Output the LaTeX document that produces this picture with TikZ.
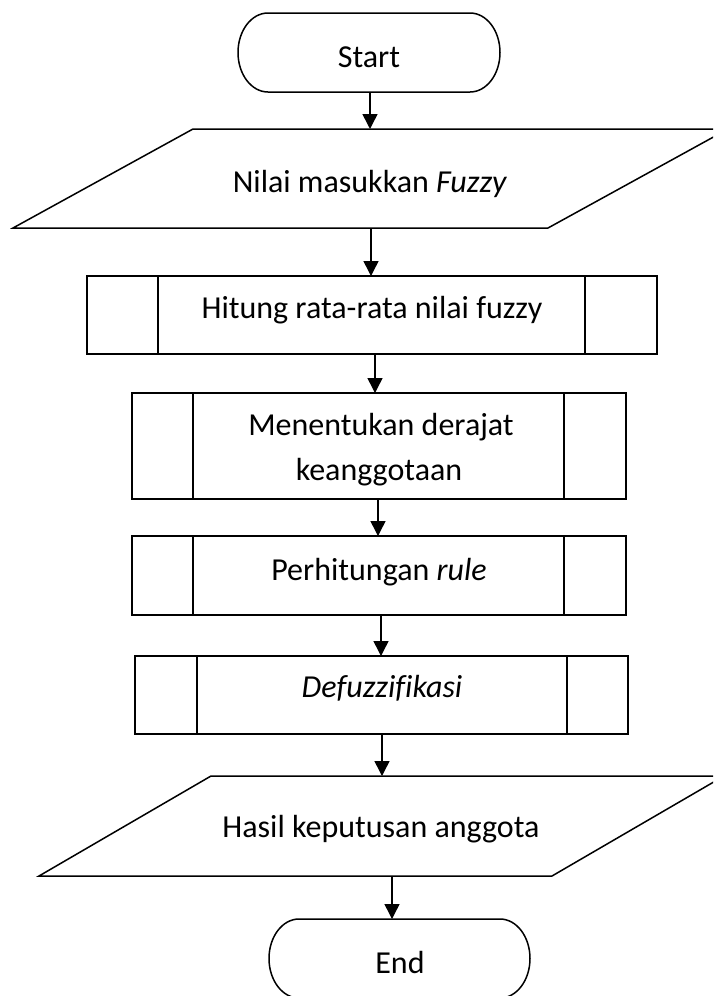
\documentclass[tikz,border=0pt]{standalone}
\usepackage{fontspec}
\setmainfont{Carlito}[Ligatures=NoCommon]
\usetikzlibrary{arrows.meta}
\begin{document}
\begin{tikzpicture}[x=1pt,y=-1pt,
  shapeline/.style={draw=black,line width=1.5pt,line join=miter},
  txt/.style={anchor=base,inner sep=0pt,font=\fontsize{32}{45}\selectfont},
  flow/.style={draw=black,line width=1.5pt,-{Triangle[length=15pt,width=15pt]}}]

% page frame
\fill[white] (0,0) rectangle (713,996);
\clip (0,0) rectangle (713,996);

% terminator: Start
\draw[shapeline] (268,13) -- (470,13)
  .. controls (486.6,13) and (500,30.7) .. (500,52.5)
  .. controls (500,74.3) and (486.6,92) .. (470,92)
  -- (268,92)
  .. controls (251.4,92) and (238,74.3) .. (238,52.5)
  .. controls (238,30.7) and (251.4,13) .. cycle;
\node[txt] (start) at (369,67) {Start};
\coordinate (startB) at (370,92);

% input: Nilai masukkan Fuzzy
\draw[shapeline] (193,129) -- (728,129) -- (548,228) -- (13,228) -- cycle;
\node[txt] (input) at (370,192) {Nilai masukkan \textit{Fuzzy}};
\coordinate (inputT) at (370,129);
\coordinate (inputB) at (371,228);

% process: Hitung rata-rata
\draw[shapeline] (87,276) rectangle (657,354);
\draw[shapeline] (158,276) -- (158,354) (585,276) -- (585,354);
\node[txt] (avg) at (372,318) {Hitung rata-rata nilai fuzzy};
\coordinate (avgT) at (371,276);
\coordinate (avgB) at (375,354);

% process: Menentukan derajat keanggotaan
\draw[shapeline] (132,393) rectangle (626,499);
\draw[shapeline] (193,393) -- (193,499) (564,393) -- (564,499);
\node[txt] (deg1) at (381,435) {Menentukan derajat};
\node[txt] (deg2) at (379,480) {keanggotaan};
\coordinate (degT) at (375,393);
\coordinate (degB) at (378,499);

% process: Perhitungan rule
\draw[shapeline] (132,536) rectangle (626,615);
\draw[shapeline] (193,536) -- (193,615) (564,536) -- (564,615);
\node[txt] (rule) at (379,580) {Perhitungan \textit{rule}};
\coordinate (ruleT) at (378,536);
\coordinate (ruleB) at (381,615);

% process: Defuzzifikasi
\draw[shapeline] (135,656) rectangle (628,734);
\draw[shapeline] (197,656) -- (197,734) (567,656) -- (567,734);
\node[txt] (defz) at (382,697) {\textit{Defuzzifikasi}};
\coordinate (defzT) at (381,656);
\coordinate (defzB) at (382,734);

% output: Hasil keputusan anggota
\draw[shapeline] (211,776) -- (724,776) -- (552,876) -- (39,876) -- cycle;
\node[txt] (result) at (381,837) {Hasil keputusan anggota};
\coordinate (resultT) at (382,776);
\coordinate (resultB) at (392,876);

% terminator: End
\draw[shapeline] (299,919) -- (500,919)
  .. controls (516.6,919) and (530,936.7) .. (530,958.5)
  .. controls (530,980.3) and (516.6,998) .. (500,998)
  -- (299,998)
  .. controls (282.4,998) and (269,980.3) .. (269,958.5)
  .. controls (269,936.7) and (282.4,919) .. cycle;
\node[txt] (end) at (400,973) {End};
\coordinate (endT) at (392,919);

% connectors
\draw[flow] (startB) -- (inputT);
\draw[flow] (inputB) -- (avgT);
\draw[flow] (avgB) -- (degT);
\draw[flow] (degB) -- (ruleT);
\draw[flow] (ruleB) -- (defzT);
\draw[flow] (defzB) -- (resultT);
\draw[flow] (resultB) -- (endT);
\end{tikzpicture}
\end{document}
